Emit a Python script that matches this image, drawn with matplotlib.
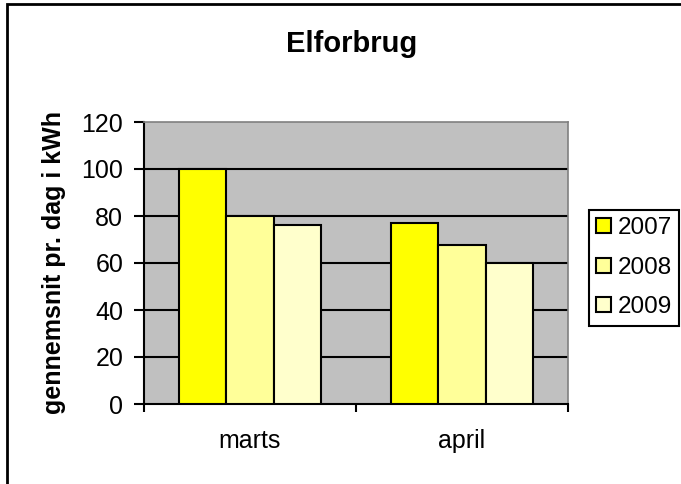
import matplotlib
matplotlib.use("Agg")
import matplotlib.pyplot as plt
import numpy as np
from matplotlib.patches import Rectangle

months = ["marts", "april"]
years = ["2007", "2008", "2009"]
values_2007 = [100, 77]
values_2008 = [80, 67.5]
values_2009 = [76, 60]
colors = ["#FFFF00", "#FFFF99", "#FFFFCC"]
yticks = [0, 20, 40, 60, 80, 100, 120]

plt.rcParams['font.family'] = ['Liberation Sans', 'DejaVu Sans']

fig = plt.figure(figsize=(6.81, 4.84), dpi=100)
ax = fig.add_axes([144 / 681, 1 - 404 / 484, 424 / 681, 282 / 484])
ax.set_facecolor("#C0C0C0")

x = np.arange(len(months))
w = 0.224
series = [values_2007, values_2008, values_2009]
for i, (vals, year) in enumerate(zip(series, years)):
    ax.bar(x + (i - 1) * w, vals, w, color=colors[i], edgecolor="black",
           linewidth=1.5, label=year, zorder=3)

ax.set_xlim(-0.5, 1.5)
ax.set_ylim(0, 120)
ax.set_yticks(yticks)
ax.set_xticks(x)
ax.set_xticklabels(months)
ax.set_xticks([-0.5, 0.5, 1.5], minor=True)
ax.tick_params(axis="x", which="major", length=0, pad=18, labelsize=18)
ax.tick_params(axis="x", which="minor", length=6, width=1.5, direction="out")
ax.tick_params(axis="y", length=7, width=1.5, direction="out", pad=8, labelsize=18)

ax.set_axisbelow(True)
ax.yaxis.grid(True, color="black", linewidth=1.5)
ax.get_ygridlines()[-1].set_visible(False)
ax.get_ygridlines()[0].set_visible(False)

ax.spines["left"].set_linewidth(1.5)
ax.spines["bottom"].set_linewidth(1.5)
ax.spines["top"].set_color("#808080")
ax.spines["right"].set_color("#808080")
ax.spines["top"].set_linewidth(1.2)
ax.spines["right"].set_linewidth(1.2)

fig.text(351.5 / 681, 1 - 52.3 / 484, "Elforbrug", ha="center", va="baseline",
         fontsize=21, fontweight="bold")
fig.text(54 / 681, 1 - 262 / 484, "gennemsnit pr. dag i kWh", rotation=90,
         ha="center", va="center", fontsize=18, fontweight="bold")

leg = fig.legend(loc="upper left", bbox_to_anchor=(589 / 681, 1 - 210 / 484),
                 borderaxespad=0, fontsize=17.5, handlelength=0.6, handleheight=0.55,
                 handletextpad=0.28, borderpad=0.3, labelspacing=0.72,
                 fancybox=False, edgecolor="black", framealpha=1)
leg.get_frame().set_linewidth(1.5)

fig.patches.append(Rectangle((7 / 681, -0.1), 2, 1.1 - 4 / 484, transform=fig.transFigure,
                             fill=False, edgecolor="black", linewidth=2))

fig.savefig("out.png", dpi=100)
